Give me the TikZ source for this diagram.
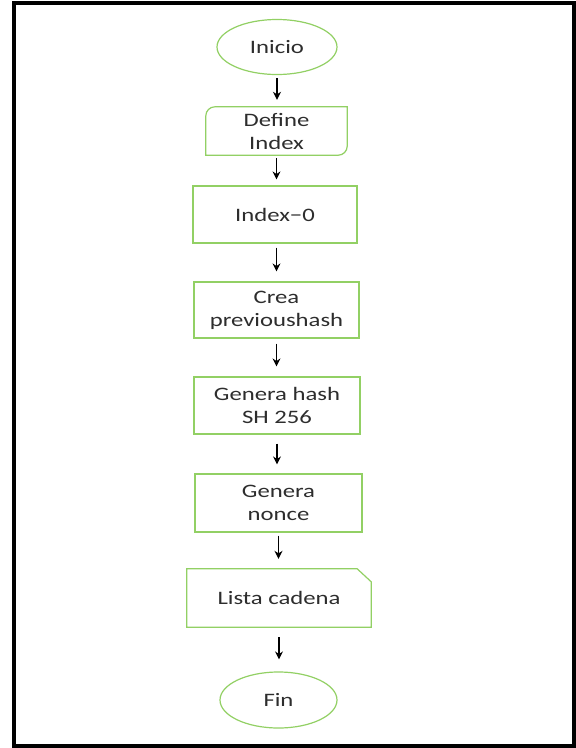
\documentclass[tikz,border=0pt]{standalone}
\usepackage{fontspec}
\usetikzlibrary{shapes.geometric,arrows.meta}
\newfontfamily\lblfont[FakeStretch=1.3]{Carlito}
\definecolor{boxgreen}{RGB}{146,208,100}
\definecolor{txtgray}{RGB}{45,45,45}
\tikzset{
  lbl/.style={font=\lblfont\fontsize{19}{23}\selectfont, text=txtgray, align=center, inner sep=0pt},
  proc/.style={lbl, draw=boxgreen, line width=1.2pt},
  term/.style={lbl, ellipse, draw=boxgreen, line width=1.2pt},
  bare/.style={lbl, draw=none},
  flow/.style={-{Stealth[length=8pt,width=8pt]}, line width=1.3pt, black}
}
\begin{document}
\begin{tikzpicture}[x=1pt,y=-1pt]
\useasboundingbox (0,0) rectangle (576,748);
\fill[white] (0,0) rectangle (576,748);
% outer frame
\draw[line width=4pt, black] (13.5,3) rectangle (573.5,745.5);

% steps
\node[term, minimum width=120pt, minimum height=55pt] (ini) at (277,47) {Inicio};
\node[bare, minimum width=141pt, minimum height=48pt] (def) at (276.5,131) {Define\\Index};
\draw[boxgreen, line width=1.2pt] (def.south west) -- (def.west) [rounded corners=9pt] -- (def.north west) [sharp corners] -- (def.north east) -- (def.east) [rounded corners=9pt] -- (def.south east) [sharp corners] -- cycle;
\node[proc, minimum width=164pt, minimum height=57pt] (idx) at (275,214.5) {Index{\textminus}0};
\node[proc, minimum width=165pt, minimum height=56pt] (prev) at (276.5,310) {Crea\\previoushash};
\node[proc, minimum width=166pt, minimum height=57pt] (hash) at (277,405.5) {Genera hash\\SH 256};
\node[proc, minimum width=167pt, minimum height=58pt] (nonce) at (278.5,503) {Genera\\nonce};
\node[bare, minimum width=184pt, minimum height=58pt] (lista) at (279,598) {Lista cadena};
\draw[boxgreen, line width=1.2pt] (lista.south west) -- (lista.north west) -- ([xshift=-14pt]lista.north east) -- ([yshift=-13pt]lista.north east) -- (lista.south east) -- cycle;
\node[term, minimum width=117pt, minimum height=56pt] (fin) at (278.5,700) {Fin};

% connectors
\draw[flow, shorten <=3pt, shorten >=7pt] (ini.south) -- (ini.south |- def.north);
\draw[flow, shorten <=3pt, shorten >=6pt] (def.south) -- (def.south |- idx.north);
\draw[flow, shorten <=4pt, shorten >=10pt] (idx.south) ++(1.5,0) coordinate (i1) (i1) -- (i1 |- prev.north);
\draw[flow, shorten <=5pt, shorten >=10pt] (prev.south) -- (prev.south |- hash.north);
\draw[flow, shorten <=9pt, shorten >=9pt] (hash.south) -- (hash.south |- nonce.north);
\draw[flow, shorten <=3pt, shorten >=10pt] (nonce.south) -- (nonce.south |- lista.north);
\draw[flow, shorten <=10pt, shorten >=12pt] (lista.south) -- (lista.south |- fin.north);
\end{tikzpicture}
\end{document}
